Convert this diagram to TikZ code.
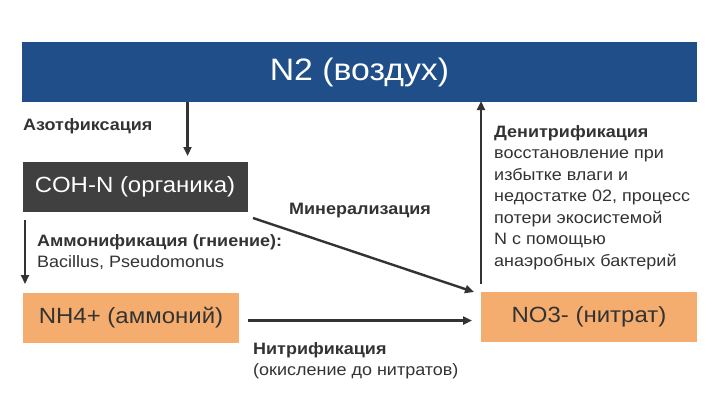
\documentclass[tikz,border=0pt]{standalone}
\usepackage{fontspec}
\setmainfont[FakeStretch=1.09]{Liberation Sans}
\usetikzlibrary{arrows.meta}
\definecolor{barblue}{RGB}{31,78,137}
\definecolor{boxgray}{RGB}{64,64,64}
\definecolor{boxorange}{RGB}{244,173,110}
\definecolor{ink}{RGB}{51,51,51}
\tikzset{
  px/.style={x=1pt,y=-1pt},
  bar/.style={fill=barblue,draw=none,minimum width=675pt,minimum height=60pt,inner sep=0pt,text=white,font=\fontsize{31}{33}\selectfont},
  graybox/.style={fill=boxgray,draw=none,minimum width=225pt,minimum height=50pt,inner sep=0pt,text=white,font=\fontsize{22}{24}\selectfont},
  orangebox/.style={fill=boxorange,draw=none,minimum width=216pt,minimum height=50pt,inner sep=0pt,text=ink,font=\fontsize{22}{24}\selectfont},
  flow/.style={draw=ink,line width=2.4pt,-{Triangle[length=9pt,width=8pt]}},
  lbl/.style={text=ink,inner sep=0pt,anchor=west,align=left,font=\fontsize{16.5}{21.5}\selectfont},
}
\begin{document}
\begin{tikzpicture}[px]
\useasboundingbox (0,0) rectangle (720,405);
\fill[white] (0,0) rectangle (720,405);
\node[bar] (n2) at (359.5,72) {N2 (воздух)};
\node[graybox] (coh) at (135,186.5) {COH-N (органика)};
\node[orangebox] (nh4) at (131,317.5) {NH4+ (аммоний)};
\node[orangebox] (no3) at (589,317) {NO3- (нитрат)};
% connectors
\coordinate (a1s) at (187.5,102);
\coordinate (a1e) at (187.5,156);
\draw[flow] (a1s) -- (a1e);
\coordinate (a2s) at (25,220);
\coordinate (a2e) at (25,284);
\draw[flow] (a2s) -- (a2e);
\coordinate (a3s) at (253,218);
\coordinate (a3e) at (474,292);
\draw[flow] (a3s) -- (a3e);
\coordinate (a4s) at (248,320.5);
\coordinate (a4e) at (472,320.5);
\draw[flow] (a4s) -- (a4e);
\coordinate (a5s) at (481,284);
\coordinate (a5e) at (481,101);
\draw[flow] (a5s) -- (a5e);
% labels
\node[lbl] (l1) at (23,126) {\textbf{Азотфиксация}};
\node[lbl,anchor=north west] (l2) at (37,234) {\textbf{Аммонификация (гниение):}\\Bacillus, Pseudomonus};
\node[lbl] (l3) at (289,211) {\textbf{Минерализация}};
\node[lbl,anchor=north west] (l4) at (253,342) {\textbf{Нитрификация}\\(окисление до нитратов)};
\node[lbl,anchor=north west] (l5) at (494,125) {\textbf{Денитрификация}\\восстановление при\\избытке влаги и\\недостатке 02, процесс\\потери экосистемой\\N с помощью\\анаэробных бактерий};
\end{tikzpicture}
\end{document}
